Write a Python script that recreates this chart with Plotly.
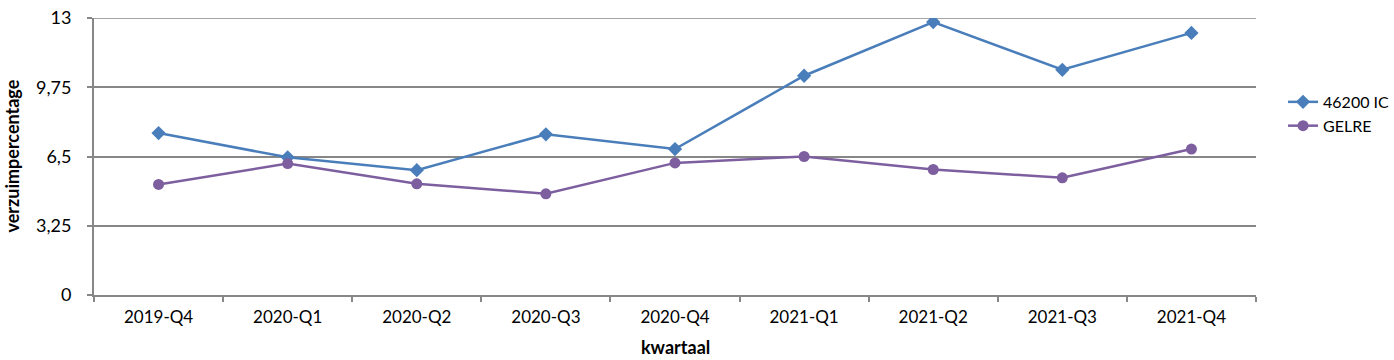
import plotly.graph_objects as go

categories = ["2019-Q4", "2020-Q1", "2020-Q2", "2020-Q3", "2020-Q4",
              "2021-Q1", "2021-Q2", "2021-Q3", "2021-Q4"]
ic_values = [7.60, 6.46, 5.86, 7.54, 6.85, 10.29, 12.81, 10.57, 12.30]
gelre_values = [5.19, 6.17, 5.22, 4.75, 6.20, 6.50, 5.89, 5.50, 6.85]
y_tickvals = [0, 3.25, 6.5, 9.75, 13]
y_ticktext = ["0", "3,25", "6,5", "9,75", "13"]

FONT = "Lato, Open Sans, sans-serif"
GRID = "#878787"

fig = go.Figure()
fig.add_trace(go.Scatter(
    x=categories, y=ic_values, name="46200 IC", mode="lines+markers",
    line=dict(color="#4A7EBB", width=2.5),
    marker=dict(symbol="diamond", size=11, color="#4A7EBB"),
))
fig.add_trace(go.Scatter(
    x=categories, y=gelre_values, name="GELRE", mode="lines+markers",
    line=dict(color="#7D5FA0", width=2.5),
    marker=dict(symbol="circle", size=11, color="#7D5FA0"),
))

# top gridline at the range edge
fig.add_shape(type="line", xref="paper", yref="y", x0=0, x1=1, y0=13, y1=13,
              line=dict(color=GRID, width=1.5), layer="below")

fig.add_annotation(text="<b>kwartaal</b>", xref="paper", yref="paper",
                   x=0.5, y=-0.1877, yanchor="middle", showarrow=False,
                   font=dict(size=18, family=FONT))
fig.add_annotation(text="<b>verzuimpercentage</b>", xref="paper", yref="paper",
                   x=-0.0714, y=0.5, textangle=-90, showarrow=False,
                   xanchor="center", yanchor="middle",
                   font=dict(size=18, family=FONT))

fig.update_layout(
    width=1394, height=360,
    margin=dict(l=94, r=138, t=18, b=65),
    paper_bgcolor="white", plot_bgcolor="white",
    font=dict(family=FONT, size=16, color="black"),
    showlegend=True,
    legend=dict(xref="container", yref="container", x=0.9204, y=0.764,
                xanchor="left", yanchor="top",
                font=dict(size=16), tracegroupgap=0, itemwidth=30,
                bgcolor="rgba(0,0,0,0)"),
    xaxis=dict(
        type="category", tickson="boundaries", ticks="outside", ticklen=5,
        tickcolor=GRID, tickwidth=1.5,
        showline=True, linecolor=GRID, linewidth=2,
        showgrid=False, range=[-0.5, 8.5], automargin=False,
        tickfont=dict(size=17), ticklabelstandoff=6,
    ),
    yaxis=dict(
        range=[0, 13], tickvals=y_tickvals, ticktext=y_ticktext,
        ticks="outside", ticklen=5, tickcolor=GRID, tickwidth=1.5,
        showline=True, linecolor=GRID, linewidth=2,
        showgrid=True, gridcolor=GRID, gridwidth=1.5, zeroline=False,
        automargin=False, ticklabelstandoff=12,
        tickfont=dict(size=18),
    ),
)

fig.write_html("out.html", config={"displayModeBar": False},
               post_script="document.body.style.margin='0';")
